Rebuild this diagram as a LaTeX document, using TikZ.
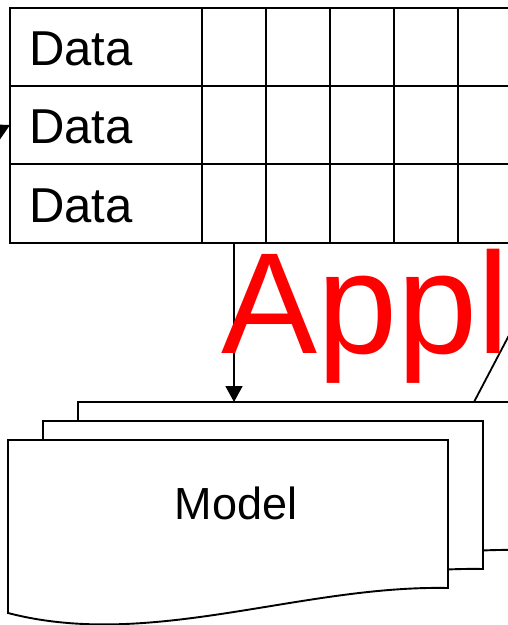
\documentclass[tikz,border=0pt]{standalone}
\usepackage{fontspec}
\setmainfont{Liberation Sans}
\usetikzlibrary{arrows.meta}

\tikzset{
  gridline/.style={line width=2.2pt, line cap=rect},
  sheet/.style={draw=black, fill=white, line width=1.9pt, line join=miter},
  link/.style={line width=1.8pt},
  datalabel/.style={anchor=base west, inner sep=0pt, font=\fontsize{49}{49}\selectfont},
  modellabel/.style={anchor=base, inner sep=0pt, font=\fontsize{45}{45}\selectfont},
  banner/.style={anchor=base west, inner sep=0pt, text=red, font=\fontsize{144}{144}\selectfont},
  tip/.style={-{Triangle[width=17pt,length=16pt]}}
}

% a stacked document sheet with a wavy lower edge
\newcommand\docsheet[1]{%
  \begin{scope}[shift={#1}]
    \path[sheet] (8,440) -- (448,440) -- (448,588)
      .. controls (300,585) and (150,650) .. (8,613) -- cycle;
  \end{scope}}

\begin{document}
\begin{tikzpicture}[x=1pt,y=-1pt]
\useasboundingbox (0,0) rectangle (508,625);

% data table
\foreach \y in {8,86,164,243} \draw[gridline] (10,\y) -- (540,\y);
\draw[gridline] (10,8) -- (10,243);
\foreach \x in {202,266,330,394,458,522} \draw[gridline] (\x,8) -- (\x,243);

\node[datalabel] (rowone) at (29,65) {Data};
\node[datalabel] (rowtwo) at (29,143) {Data};
\node[datalabel] (rowthree) at (29,222) {Data};

% incoming link on the middle row
\coordinate (rowtwoedge) at (10,125);
\coordinate (feed) at (-60,160);
\draw[link, tip] (feed) -- (rowtwoedge);

% model stack
\coordinate (tablefoot) at (234,243);
\coordinate (stacktop) at (234,402);
\coordinate (stackjoint) at (474,402);
\coordinate (appfar) at (527,301);
\draw[link] (stackjoint) -- (appfar);

\docsheet{(70,-38)}
\docsheet{(35,-19)}
\docsheet{(0,0)}

\draw[link, tip] (tablefoot) -- (stacktop);

\node[modellabel] (model) at (236,519) {Model};

\node[banner] (app) at (221,353) {Appl};
\end{tikzpicture}
\end{document}
